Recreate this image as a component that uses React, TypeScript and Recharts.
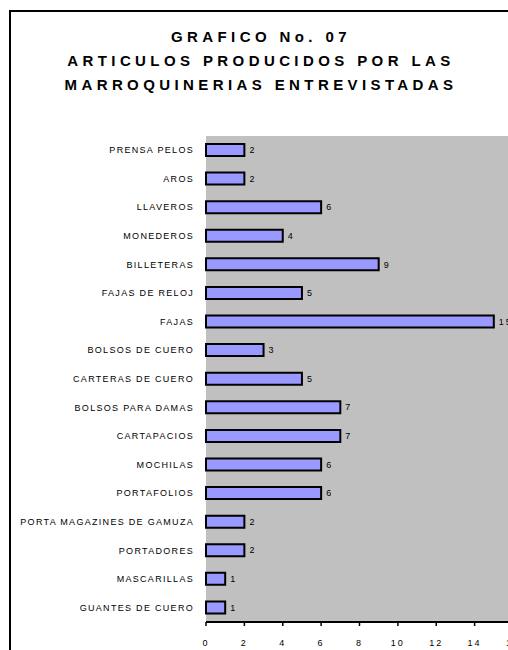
import React from 'react';
import { BarChart, Bar, XAxis, YAxis, CartesianGrid, LabelList } from 'recharts';

// categories top to bottom, as in the reference
const articulos = [
  'PRENSA PELOS',
  'AROS',
  'LLAVEROS',
  'MONEDEROS',
  'BILLETERAS',
  'FAJAS DE RELOJ',
  'FAJAS',
  'BOLSOS DE CUERO',
  'CARTERAS DE CUERO',
  'BOLSOS PARA DAMAS',
  'CARTAPACIOS',
  'MOCHILAS',
  'PORTAFOLIOS',
  'PORTA MAGAZINES DE GAMUZA',
  'PORTADORES',
  'MASCARILLAS',
  'GUANTES DE CUERO',
];
const cantidades = [2, 2, 6, 4, 9, 5, 15, 3, 5, 7, 7, 6, 6, 2, 2, 1, 1];
const xTicks = [0, 2, 4, 6, 8, 10, 12, 14, 16];
const bandTicks = [0, 1, 2, 3, 4, 5, 6, 7, 8, 9, 10, 11, 12, 13, 14, 15, 16, 17];
const titleLines = ['GRAFICO No. 07', 'ARTICULOS PRODUCIDOS POR LAS', 'MARROQUINERIAS ENTREVISTADAS'];

const font = '"Liberation Sans", Arial, sans-serif';

// plain svg text so long names never wrap
const CategoryTick = ({ x, y, payload }: any) => (
  <text
    x={x}
    y={y}
    textAnchor="end"
    dominantBaseline="central"
    fontSize={9}
    fill="#000"
    letterSpacing={1.3}
    fontFamily={font}
  >
    {payload.value}
  </text>
);

export default function App() {
  const data = articulos.map((name, i) => ({ name, value: cantidades[i] }));

  // the reference is a crop of a wider page, so the frame and plot run off the right and bottom edges
  return (
    <div
      style={{
        position: 'fixed',
        left: 0,
        top: 0,
        width: 508,
        height: 650,
        overflow: 'hidden',
        background: '#fff',
        fontFamily: font,
      }}
    >
      <div
        style={{
          position: 'absolute',
          left: 9,
          top: 10,
          width: 620,
          height: 720,
          border: '2px solid #000',
          boxSizing: 'border-box',
        }}
      />
      <div style={{ position: 'absolute', left: 6, top: 25, width: 510, textAlign: 'center' }}>
        {titleLines.map((t) => (
          <div
            key={t}
            style={{ fontSize: 15, fontWeight: 'bold', letterSpacing: 4.4, lineHeight: '24px', color: '#000' }}
          >
            {t}
          </div>
        ))}
      </div>
      <div style={{ position: 'absolute', left: 8, top: 8 }}>
        <BarChart
          width={520}
          height={700}
          data={data}
          layout="vertical"
          margin={{ top: 128, right: 15, bottom: 56, left: 0 }}
          barCategoryGap={0}
        >
          <CartesianGrid fill="#C0C0C0" stroke="none" horizontal={false} vertical={false} />
          <XAxis
            type="number"
            domain={[0, 16]}
            ticks={xTicks}
            height={30}
            tickSize={4}
            tickMargin={14}
            axisLine={{ stroke: '#000', strokeWidth: 2 }}
            tickLine={{ stroke: '#000', strokeWidth: 1.5 }}
            tick={{ fontSize: 9, fill: '#000', letterSpacing: 2, fontFamily: font }}
            interval={0}
          />
          <XAxis
            xAxisId="top"
            orientation="top"
            type="number"
            domain={[0, 16]}
            height={0}
            tick={false}
            tickLine={false}
            axisLine={{ stroke: '#808080', strokeWidth: 2 }}
          />
          <YAxis
            yAxisId="marks"
            type="number"
            domain={[0, 17]}
            ticks={bandTicks}
            reversed
            width={0}
            tick={false}
            tickSize={4}
            tickLine={{ stroke: '#000', strokeWidth: 2 }}
            axisLine={{ stroke: '#000', strokeWidth: 2 }}
            interval={0}
          />
          <YAxis
            yAxisId="cat"
            type="category"
            dataKey="name"
            width={198}
            axisLine={false}
            tickLine={false}
            tickMargin={6}
            interval={0}
            tick={<CategoryTick />}
          />
          <Bar
            dataKey="value"
            yAxisId="cat"
            fill="#9999FF"
            stroke="#000"
            strokeWidth={2}
            barSize={12}
            isAnimationActive={false}
          >
            <LabelList
              dataKey="value"
              position="right"
              offset={5}
              style={{ fontSize: 9, fill: '#000', letterSpacing: 2, fontFamily: font }}
            />
          </Bar>
        </BarChart>
      </div>
    </div>
  );
}
